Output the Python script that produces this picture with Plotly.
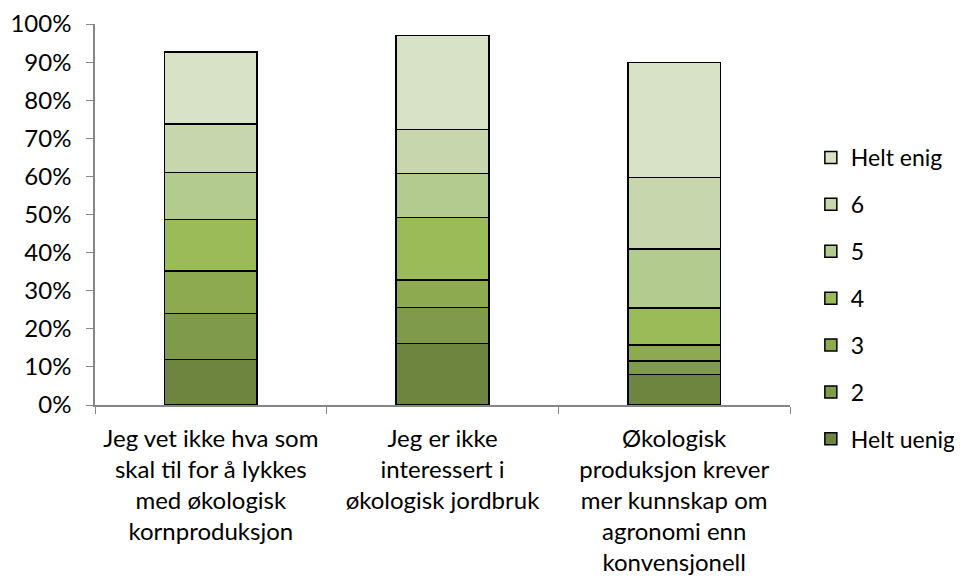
import plotly.graph_objects as go

categories = [
    "Jeg vet ikke hva som<br>skal til for å lykkes<br>med økologisk<br>kornproduksjon",
    "Jeg er ikke<br>interessert i<br>økologisk jordbruk",
    "Økologisk<br>produksjon krever<br>mer kunnskap om<br>agronomi enn<br>konvensjonell",
]
series_names = ["Helt uenig", "2", "3", "4", "5", "6", "Helt enig"]
helt_uenig = [0.120, 0.162, 0.080]
s2 = [0.120, 0.094, 0.035]
s3 = [0.112, 0.072, 0.043]
s4 = [0.135, 0.164, 0.097]
s5 = [0.123, 0.116, 0.155]
s6 = [0.128, 0.115, 0.187]
helt_enig = [0.189, 0.247, 0.302]
values = [helt_uenig, s2, s3, s4, s5, s6, helt_enig]
colors = ["#6E8540", "#7F9A4A", "#8DAA51", "#9BBB59", "#B3CB8E", "#C8D6AD", "#D8E2C7"]

font = "Lato, Carlito, Calibri, sans-serif"

fig = go.Figure()
for i, (name, vals, col) in enumerate(zip(series_names, values, colors)):
    fig.add_trace(go.Bar(
        x=categories, y=vals, name=name, legendgroup=name,
        legendrank=len(series_names) - i,
        marker=dict(color=col, line=dict(color="black", width=1.5)),
    ))

# page body has an 8px margin, so margins are shifted by 8;
# figure is a bit wider than the window so the legend doesn't push the margin
fig.update_layout(
    barmode="stack",
    bargap=0.6,
    width=990, height=578,
    margin=dict(l=87, r=208, t=16, b=181),
    plot_bgcolor="white", paper_bgcolor="white",
    font=dict(family=font, size=24, color="black"),
    legend=dict(
        x=1.03, xanchor="left", y=0.706, yanchor="top",
        traceorder="grouped", tracegroupgap=14,
        font=dict(size=23), itemwidth=30,
    ),
    xaxis=dict(
        showline=True, linecolor="#868686", linewidth=1.5,
        ticks="outside", tickson="boundaries", ticklen=7, tickcolor="#868686",
        ticklabelstandoff=11,
        showgrid=False, automargin=False,
    ),
    yaxis=dict(
        range=[0, 1], tickformat=".0%", dtick=0.1,
        showline=True, linecolor="#868686", linewidth=1.5,
        ticks="outside", ticklen=7, tickcolor="#868686",
        ticklabelstandoff=10,
        showgrid=False, zeroline=False, automargin=False,
    ),
)

fig.write_html("out.html")
